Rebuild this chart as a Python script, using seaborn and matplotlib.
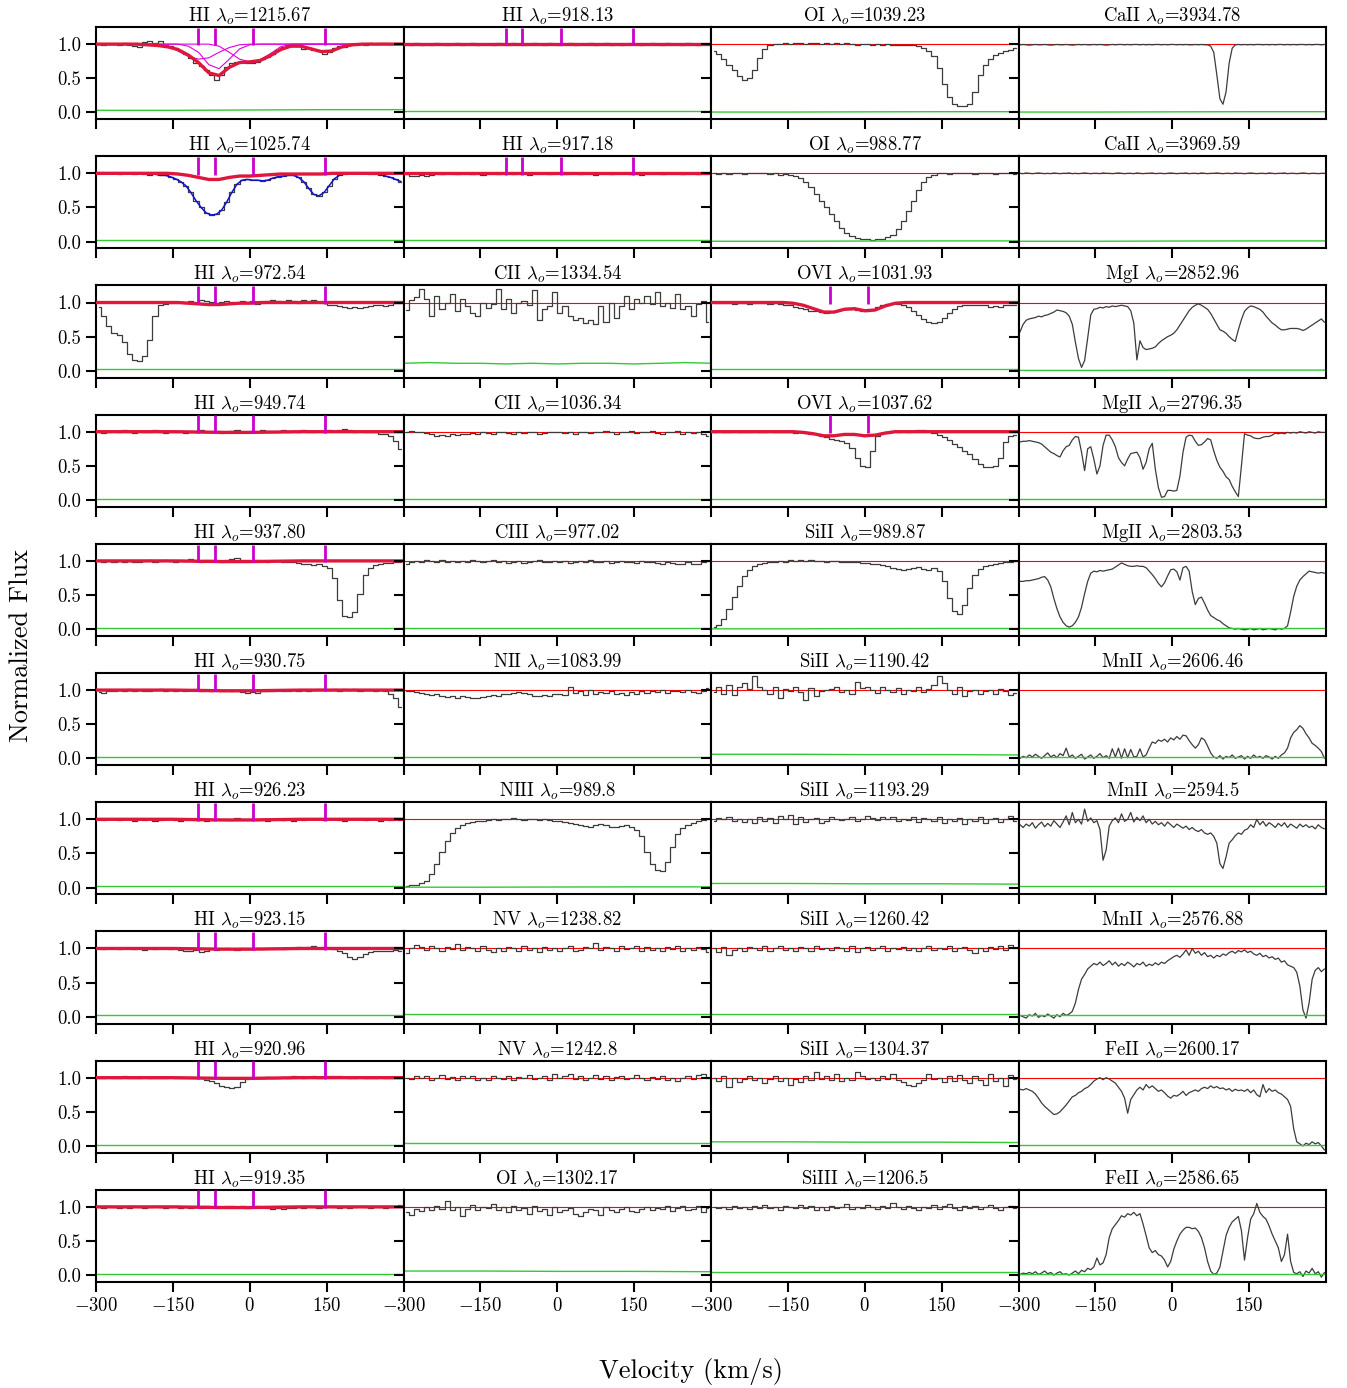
import numpy as np
import matplotlib.pyplot as plt
import seaborn as sns

# ---------------- data (normalized flux) ----------------
# low-res spectra: 60 bins over -300..300 km/s ; high-res: 100 bins
hi1215 = [1.0, 0.99, 1.0, 1.0, 0.99, 1.01, 0.99, 0.97, 0.96, 1.03, 1.04, 1.02, 1.05, 0.99, 0.97,
          0.94, 0.9, 0.85, 0.8, 0.73, 0.68, 0.62, 0.55, 0.47, 0.55, 0.66, 0.72, 0.74, 0.75, 0.73,
          0.72, 0.74, 0.78, 0.81, 0.86, 0.91, 0.96, 0.98, 0.99, 0.97, 0.93, 0.95, 0.92, 0.9, 0.86,
          0.89, 0.94, 0.97, 0.96, 0.99, 1.0, 1.0, 0.99, 1.01, 1.0, 1.02, 1.01, 1.0, 1.0, 1.01]
hi1025 = [1.0, 1.01, 1.0, 1.01, 0.99, 1.0, 1.0, 0.99, 1.0, 0.99, 0.98, 0.99, 0.97, 0.97, 0.95,
          0.92, 0.88, 0.82, 0.72, 0.6, 0.5, 0.42, 0.39, 0.4, 0.46, 0.58, 0.72, 0.84, 0.9, 0.91,
          0.9, 0.9, 0.89, 0.9, 0.93, 0.95, 0.96, 0.97, 0.97, 0.94, 0.88, 0.78, 0.69, 0.67, 0.72,
          0.82, 0.92, 0.97, 0.99, 1.0, 1.0, 1.01, 1.0, 0.99, 0.99, 0.98, 0.96, 0.94, 0.91, 0.88]
hi972 = [0.93, 0.8, 0.65, 0.56, 0.52, 0.42, 0.25, 0.16, 0.15, 0.22, 0.45, 0.8, 0.96, 0.98, 0.99,
         1.0, 1.01, 1.0, 1.02, 1.01, 1.03, 1.02, 1.01, 0.99, 1.01, 1.02, 1.01, 1.0, 1.02, 1.01,
         1.02, 0.98, 1.0, 1.02, 1.03, 1.02, 1.01, 1.03, 1.02, 1.0, 1.03, 1.02, 1.03, 1.01, 1.0,
         0.97, 0.96, 0.95, 0.93, 0.92, 0.93, 0.92, 0.93, 0.95, 0.96, 0.96, 0.95, 0.97, 0.99, 1.0]
hi949 = [0.99, 0.98, 1.0, 1.01, 0.99, 1.02, 1.0, 0.98, 1.01, 0.99, 1.0, 1.02, 1.0, 0.98, 1.0,
         0.99, 1.01, 0.98, 1.0, 0.99, 1.02, 1.0, 0.99, 1.01, 0.98, 1.0, 1.01, 1.02, 1.0, 0.99,
         1.01, 1.0, 1.02, 1.01, 0.99, 1.0, 1.02, 1.0, 1.01, 1.0, 1.02, 0.99, 1.0, 1.01, 1.0,
         1.02, 1.01, 1.03, 1.04, 1.02, 1.0, 1.01, 1.0, 0.99, 1.0, 0.97, 0.96, 0.93, 0.86, 0.75]
hi937 = [1.0, 0.99, 1.0, 0.98, 1.0, 0.99, 1.0, 0.98, 0.99, 1.0, 1.01, 0.99, 1.0, 1.02, 1.0,
         0.99, 1.01, 1.0, 1.03, 1.0, 0.99, 1.01, 1.02, 1.0, 0.99, 1.01, 1.03, 1.04, 1.02, 1.01,
         1.0, 1.02, 1.0, 0.99, 1.0, 1.0, 0.99, 0.99, 0.98, 0.97, 0.96, 0.95, 0.94, 0.95, 0.93,
         0.9, 0.75, 0.42, 0.2, 0.18, 0.25, 0.52, 0.8, 0.9, 0.94, 0.96, 0.97, 0.97, 0.98, 0.98]
hi930 = [0.97, 0.96, 0.99, 0.98, 1.0, 0.99, 1.01, 0.99, 1.0, 0.98, 0.99, 1.0, 1.01, 0.99, 1.0,
         0.98, 1.0, 0.99, 1.0, 1.01, 0.99, 1.0, 0.98, 1.0, 0.99, 1.0, 0.99, 1.0, 0.97, 0.96,
         0.97, 0.96, 0.98, 0.99, 0.98, 1.0, 0.99, 0.98, 1.0, 0.99, 1.0, 0.99, 1.0, 1.01, 1.02,
         1.0, 1.01, 0.99, 1.02, 1.0, 1.01, 0.99, 1.0, 1.0, 0.99, 1.0, 0.98, 0.95, 0.88, 0.75]
hi926 = [1.0, 0.99, 1.01, 1.0, 0.99, 1.0, 1.01, 0.98, 1.0, 0.99, 1.0, 0.98, 0.99, 1.0, 1.01,
         0.99, 0.98, 1.0, 1.01, 0.99, 1.0, 0.98, 0.99, 1.0, 1.01, 1.0, 0.99, 1.02, 1.0, 1.01,
         1.0, 0.99, 1.0, 0.98, 1.0, 1.01, 0.99, 1.0, 0.98, 1.0, 0.99, 1.0, 1.01, 1.0, 0.99,
         1.0, 1.01, 0.99, 0.98, 1.0, 1.01, 1.0, 0.99, 1.0, 1.01, 0.98, 1.0, 0.99, 1.0, 0.99]
hi923 = [1.0, 0.99, 1.01, 1.0, 0.99, 1.0, 1.01, 0.99, 1.0, 0.98, 1.0, 0.99, 1.0, 1.01, 0.99,
         1.0, 0.98, 0.97, 0.96, 0.98, 0.95, 0.97, 0.99, 0.98, 0.99, 1.0, 0.99, 0.98, 1.0, 1.01,
         0.99, 1.0, 0.99, 1.0, 1.01, 1.0, 0.99, 1.0, 1.01, 1.02, 1.01, 1.02, 1.03, 1.01, 1.02,
         1.0, 0.99, 0.97, 0.93, 0.88, 0.84, 0.87, 0.92, 0.95, 0.96, 0.97, 0.96, 0.97, 0.98, 0.96]
hi920 = [1.0, 0.99, 1.01, 1.0, 0.99, 1.03, 1.0, 0.99, 1.0, 1.01, 0.99, 1.0, 1.0, 0.99, 1.01,
         1.0, 0.99, 1.0, 1.0, 0.99, 0.99, 0.97, 0.95, 0.92, 0.88, 0.86, 0.85, 0.87, 0.93, 0.98,
         1.0, 0.99, 1.0, 1.01, 1.0, 0.99, 1.01, 1.0, 1.02, 1.01, 1.0, 1.01, 1.02, 1.0, 1.01,
         1.02, 1.03, 1.02, 1.01, 1.0, 1.0, 1.01, 1.0, 0.99, 1.0, 1.01, 1.0, 0.99, 1.0, 1.0]
hi919 = [1.0, 0.99, 1.01, 1.0, 0.99, 1.0, 0.99, 1.01, 1.0, 0.99, 1.0, 1.01, 1.0, 0.99, 1.0,
         1.01, 0.99, 1.0, 0.98, 1.0, 0.99, 1.01, 1.0, 0.99, 1.0, 1.01, 1.02, 1.0, 1.01, 0.99,
         1.0, 1.01, 1.0, 0.99, 0.97, 0.98, 0.97, 0.98, 0.99, 1.0, 0.99, 1.01, 1.0, 0.99, 1.0,
         1.01, 1.0, 0.99, 1.0, 0.99, 1.0, 1.01, 1.0, 0.99, 1.0, 1.0, 0.99, 1.0, 1.01, 1.03]

hi918 = [1.0, 0.99, 1.01, 0.98, 1.0, 0.99, 1.01, 1.0, 0.98, 1.0, 1.02, 0.99, 1.0, 1.01, 0.99,
         1.0, 1.0, 0.98, 1.01, 1.0, 0.99, 1.01, 1.0, 0.99, 1.0, 1.02, 1.0, 0.99, 1.01, 1.0,
         0.98, 1.0, 1.01, 0.99, 1.0, 1.0, 1.02, 0.99, 1.0, 1.01, 0.99, 1.0, 0.98, 1.0, 1.01,
         1.0, 0.99, 1.0, 1.01, 1.0, 0.99, 1.01, 1.0, 1.0, 0.99, 1.01, 1.0, 0.99, 1.0, 1.0]
hi917 = [0.99, 0.96, 0.96, 0.97, 0.96, 0.98, 1.0, 0.99, 1.0, 1.01, 0.99, 1.0, 1.01, 0.99, 1.0,
         0.98, 1.0, 1.01, 0.99, 1.0, 1.0, 0.99, 1.01, 1.0, 0.98, 1.0, 1.01, 1.0, 0.99, 1.0,
         1.01, 0.99, 1.0, 1.0, 0.99, 1.01, 1.0, 0.98, 1.0, 1.01, 0.99, 1.0, 1.0, 1.01, 0.99,
         1.0, 0.98, 1.0, 1.01, 1.0, 0.99, 1.0, 1.01, 1.0, 0.99, 1.0, 1.0, 0.99, 1.01, 1.0]
cii1334 = [0.89, 1.03, 1.08, 1.2, 1.05, 0.8, 1.1, 0.9, 1.0, 1.12, 0.87, 1.05, 0.95, 0.85, 0.8,
           1.0, 0.92, 0.98, 1.2, 0.9, 1.05, 0.85, 1.0, 1.02, 0.97, 1.18, 0.75, 0.9, 0.95, 1.15,
           0.85, 0.95, 0.8, 0.75, 0.78, 0.7, 0.75, 0.68, 0.95, 0.72, 1.0, 0.78, 0.95, 1.1, 0.9,
           1.05, 1.0, 1.1, 0.98, 1.15, 0.95, 1.0, 0.92, 1.12, 0.9, 0.95, 0.8, 0.98, 1.02, 0.72]
cii1036 = [1.0, 1.01, 0.99, 1.0, 0.98, 0.96, 0.94, 0.95, 0.94, 0.96, 0.95, 0.97, 0.96, 0.98, 0.97,
           0.99, 0.98, 0.97, 0.99, 1.0, 0.98, 0.97, 0.99, 0.98, 1.0, 0.99, 0.97, 0.98, 1.0, 0.99,
           1.0, 0.98, 0.99, 0.96, 0.99, 1.0, 0.98, 0.99, 1.0, 1.01, 0.99, 0.97, 1.0, 0.99, 1.01,
           0.98, 1.0, 0.99, 1.01, 0.98, 0.97, 1.0, 0.99, 1.01, 0.97, 1.0, 0.98, 0.99, 0.97, 0.93]
ciii977 = [0.95, 0.98, 1.0, 0.99, 1.02, 1.0, 0.98, 1.01, 0.99, 1.0, 0.98, 1.0, 0.99, 1.01, 1.0,
           0.98, 1.0, 1.02, 0.99, 1.0, 0.97, 0.98, 1.0, 0.97, 0.99, 1.0, 1.01, 0.99, 0.98, 1.0,
           0.99, 1.0, 0.97, 0.99, 1.0, 0.98, 1.01, 0.99, 0.98, 1.0, 0.97, 0.99, 1.0, 0.98, 0.99,
           0.97, 1.0, 0.98, 0.99, 0.97, 0.96, 0.98, 0.97, 0.95, 0.96, 0.98, 0.96, 0.95, 0.98, 1.0]
nii1083 = [0.98, 0.99, 0.97, 0.96, 0.95, 0.93, 0.94, 0.91, 0.9, 0.92, 0.89, 0.91, 0.9, 0.89, 0.88,
           0.9, 0.91, 0.93, 0.92, 0.95, 0.94, 0.96, 0.97, 0.96, 0.95, 0.92, 0.91, 0.93, 0.92, 0.94,
           0.95, 0.93, 1.04, 0.96, 0.98, 0.93, 1.0, 0.95, 0.97, 0.96, 0.98, 0.94, 0.96, 0.93, 0.97,
           0.95, 0.98, 0.96, 0.99, 0.97, 1.0, 0.96, 0.98, 0.99, 0.97, 1.0, 0.97, 0.96, 0.99, 1.03]
niii989 = [0.03, 0.04, 0.04, 0.06, 0.1, 0.2, 0.35, 0.52, 0.68, 0.8, 0.87, 0.91, 0.94, 0.96, 0.97,
           0.98, 0.99, 1.0, 0.99, 1.01, 1.0, 1.02, 1.0, 0.99, 1.0, 1.01, 0.99, 1.0, 0.99, 0.98,
           0.97, 0.96, 0.95, 0.93, 0.92, 0.9, 0.89, 0.91, 0.93, 0.91, 0.89, 0.88, 0.9, 0.92, 0.89,
           0.85, 0.75, 0.52, 0.35, 0.25, 0.24, 0.38, 0.6, 0.78, 0.87, 0.92, 0.95, 0.97, 0.99, 1.0]
nv1238 = [0.93, 1.0, 1.05, 1.02, 0.98, 1.03, 1.0, 0.97, 1.02, 0.99, 1.06, 0.98, 1.02, 1.0, 0.96,
          1.03, 0.98, 0.95, 1.0, 0.97, 1.02, 1.0, 0.96, 1.03, 0.98, 1.0, 0.95, 1.02, 0.98, 1.01,
          0.96, 1.0, 1.03, 0.97, 0.98, 1.02, 1.0, 1.08, 0.98, 1.02, 1.0, 0.96, 1.03, 0.99, 1.0,
          1.04, 0.97, 1.02, 0.98, 1.0, 0.96, 1.02, 0.99, 1.03, 0.97, 1.01, 0.98, 1.02, 0.99, 0.95]
nv1242 = [1.0, 0.98, 1.02, 0.99, 1.03, 0.97, 1.0, 1.04, 0.98, 1.01, 0.97, 1.02, 0.99, 1.03, 0.97,
          1.0, 0.96, 1.02, 1.0, 0.98, 1.03, 0.97, 1.01, 0.99, 1.04, 0.98, 1.0, 1.02, 0.97, 1.05,
          0.99, 1.02, 1.06, 0.98, 1.03, 0.97, 1.0, 1.04, 0.98, 1.02, 0.97, 1.01, 1.03, 0.98, 1.0,
          1.04, 0.99, 0.96, 1.01, 0.98, 1.03, 0.97, 1.0, 0.95, 1.0, 1.02, 0.98, 1.04, 1.06, 0.99]
oi1302 = [0.93, 0.88, 0.97, 0.94, 1.0, 0.96, 1.02, 0.97, 1.08, 0.95, 1.0, 0.86, 0.97, 1.03, 0.95,
          1.0, 0.98, 1.04, 0.96, 1.0, 0.92, 1.02, 0.95, 0.99, 0.9, 1.01, 0.94, 0.97, 0.88, 1.0,
          0.93, 0.96, 0.99, 0.9, 0.86, 0.92, 0.97, 0.95, 0.88, 1.0, 0.95, 0.92, 0.97, 1.0, 0.94,
          0.93, 0.97, 1.0, 0.95, 0.99, 0.97, 1.01, 0.94, 0.98, 1.02, 0.95, 0.97, 1.01, 0.93, 0.98]

oi1039 = [0.9, 0.85, 0.78, 0.7, 0.62, 0.54, 0.48, 0.5, 0.62, 0.8, 0.93, 0.98, 1.0, 1.0, 1.01,
          1.0, 1.02, 1.01, 1.0, 1.02, 1.01, 1.0, 1.02, 1.0, 1.01, 1.0, 1.01, 1.0, 0.99, 1.0,
          1.0, 0.99, 1.0, 0.99, 1.0, 0.98, 0.99, 0.98, 0.99, 0.98, 0.97, 0.95, 0.9, 0.82, 0.65,
          0.42, 0.22, 0.12, 0.1, 0.1, 0.13, 0.3, 0.55, 0.7, 0.78, 0.84, 0.87, 0.9, 0.92, 0.94]
oi988 = [1.0, 0.99, 1.0, 0.99, 1.0, 1.0, 0.99, 1.0, 1.01, 1.0, 1.0, 0.99, 1.0, 0.98, 0.99,
         0.97, 0.96, 0.93, 0.88, 0.8, 0.7, 0.6, 0.5, 0.4, 0.3, 0.2, 0.13, 0.08, 0.05, 0.04,
         0.04, 0.03, 0.04, 0.04, 0.06, 0.1, 0.18, 0.3, 0.45, 0.6, 0.75, 0.87, 0.94, 0.98, 1.0,
         1.0, 0.99, 1.0, 1.0, 1.01, 1.0, 0.99, 1.0, 1.0, 1.0, 0.99, 1.0, 1.0, 1.0, 0.99]
ovi1031 = [1.0, 0.99, 1.0, 0.99, 0.98, 1.0, 0.99, 0.98, 0.99, 1.0, 0.99, 0.98, 0.99, 0.98, 0.97,
           0.96, 0.94, 0.92, 0.9, 0.88, 0.87, 0.86, 0.85, 0.86, 0.88, 0.91, 0.92, 0.91, 0.89, 0.88,
           0.87, 0.89, 0.93, 0.96, 0.98, 0.99, 0.98, 0.97, 0.94, 0.88, 0.82, 0.76, 0.71, 0.7, 0.72,
           0.77, 0.84, 0.91, 0.95, 0.96, 0.97, 0.97, 0.96, 0.97, 0.94, 0.95, 0.94, 0.96, 0.96, 0.97]
ovi1037 = [1.0, 1.01, 0.99, 1.0, 1.01, 1.0, 0.99, 1.0, 1.01, 1.0, 0.99, 1.01, 1.0, 0.99, 1.0,
           0.99, 0.98, 0.99, 0.98, 0.97, 0.96, 0.94, 0.92, 0.9, 0.88, 0.86, 0.83, 0.76, 0.62, 0.5,
           0.49, 0.72, 0.93, 0.98, 1.0, 1.01, 1.0, 1.01, 1.0, 1.01, 1.02, 1.02, 1.01, 0.98, 0.95,
           0.92, 0.88, 0.82, 0.77, 0.72, 0.67, 0.6, 0.53, 0.48, 0.48, 0.5, 0.62, 0.85, 0.93, 0.95]
sii989 = [0.03, 0.06, 0.15, 0.3, 0.47, 0.63, 0.78, 0.87, 0.92, 0.95, 0.97, 0.98, 0.99, 1.0, 0.99,
          1.01, 1.0, 1.02, 1.0, 1.01, 1.0, 1.0, 0.99, 1.0, 1.0, 0.99, 0.98, 0.99, 0.98, 0.97,
          0.97, 0.96, 0.95, 0.94, 0.92, 0.9, 0.88, 0.87, 0.88, 0.9, 0.91, 0.88, 0.86, 0.89, 0.85,
          0.7, 0.45, 0.27, 0.22, 0.35, 0.6, 0.8, 0.88, 0.92, 0.94, 0.96, 0.97, 0.98, 0.99, 1.0]
sii1190 = [0.97, 1.05, 0.95, 1.08, 0.93, 1.05, 1.1, 1.02, 1.2, 1.05, 1.0, 0.95, 1.04, 0.88, 1.02,
           0.98, 1.05, 0.97, 0.86, 1.03, 0.92, 0.98, 1.0, 1.02, 1.05, 0.97, 1.0, 0.95, 1.12, 1.03,
           1.05, 1.0, 0.96, 1.04, 1.0, 0.97, 1.03, 0.95, 1.0, 0.98, 1.05, 0.97, 1.02, 1.08, 1.2,
           1.1, 1.0, 0.95, 1.05, 0.92, 0.98, 1.0, 0.94, 0.98, 1.0, 0.95, 1.02, 0.98, 0.93, 0.96]
sii1193 = [0.98, 1.02, 1.0, 1.04, 0.98, 1.01, 0.96, 1.0, 0.94, 1.03, 0.97, 1.02, 0.95, 1.05, 1.0,
           1.07, 0.93, 1.03, 0.96, 1.0, 1.02, 0.95, 0.98, 1.04, 1.0, 0.99, 1.01, 1.03, 0.98, 1.0,
           1.05, 1.02, 0.99, 1.03, 1.0, 1.04, 0.97, 1.01, 0.99, 1.03, 0.96, 1.02, 1.0, 0.97, 1.03,
           0.95, 1.01, 0.98, 1.02, 0.93, 1.0, 0.97, 1.03, 0.95, 1.0, 1.02, 0.96, 1.01, 1.05, 0.97]
sii1260 = [1.0, 0.95, 1.02, 0.9, 0.98, 1.0, 0.97, 1.02, 1.0, 0.98, 1.03, 0.97, 1.0, 1.04, 0.98,
           1.01, 0.96, 1.02, 1.0, 0.97, 1.03, 0.99, 1.01, 0.98, 1.02, 1.0, 0.97, 1.03, 0.95, 1.0,
           1.02, 0.98, 1.0, 1.03, 0.97, 1.0, 0.99, 1.02, 0.98, 1.01, 0.96, 1.0, 1.03, 0.98, 1.01,
           0.99, 1.03, 0.97, 1.0, 1.02, 0.98, 0.93, 1.0, 0.97, 1.02, 0.99, 1.03, 0.98, 1.05, 1.0]
sii1304 = [1.0, 0.95, 1.02, 0.87, 1.0, 0.93, 0.98, 1.03, 0.97, 1.0, 0.92, 0.98, 1.02, 0.95, 1.0,
           0.9, 0.98, 0.94, 1.03, 0.97, 1.08, 0.98, 1.02, 0.96, 1.05, 0.95, 1.0, 0.97, 1.09, 1.02,
           0.98, 1.0, 0.96, 1.03, 0.98, 1.06, 0.97, 0.93, 0.9, 0.88, 0.92, 0.96, 1.05, 0.98, 1.0,
           0.93, 1.02, 0.95, 1.04, 0.97, 0.92, 1.03, 0.97, 0.9, 1.06, 0.95, 1.0, 0.88, 1.04, 0.98]
siiii1206 = [1.0, 0.98, 1.0, 0.97, 1.01, 0.99, 1.0, 0.97, 1.02, 0.99, 1.03, 0.98, 1.0, 0.96, 1.02,
             1.0, 0.98, 1.03, 0.99, 1.01, 0.95, 1.0, 0.96, 1.02, 0.98, 1.0, 1.04, 0.97, 1.0, 0.98,
             1.03, 1.0, 0.97, 1.02, 0.99, 1.06, 1.0, 0.97, 1.02, 0.99, 0.95, 1.0, 0.98, 1.03, 0.97,
             1.01, 1.04, 0.99, 0.96, 1.01, 0.98, 1.02, 0.97, 1.0, 1.03, 0.98, 0.96, 1.0, 1.02, 0.98]

caii3934 = [0.99, 0.995, 0.99, 0.985, 0.99, 0.995, 0.99, 0.99, 0.995, 0.99, 0.985, 0.99, 0.995, 0.99, 0.99,
            0.995, 0.99, 0.985, 0.99, 0.995, 0.99, 0.995, 0.99, 0.99, 0.995, 0.99, 0.995, 0.99, 0.985, 0.99,
            0.995, 0.99, 0.995, 0.995, 0.99, 0.995, 0.99, 0.995, 0.995, 0.99, 0.995, 0.99, 0.995, 0.99, 0.995,
            0.995, 0.99, 0.995, 0.99, 0.995, 0.995, 0.99, 0.995, 0.99, 0.995, 0.99, 0.99, 0.995, 0.99, 0.995,
            0.99, 0.99, 0.97, 0.88, 0.55, 0.2, 0.12, 0.3, 0.72, 0.94, 0.99, 0.995, 0.99, 0.995, 0.99,
            0.995, 0.99, 0.995, 0.995, 0.99, 0.995, 0.99, 0.995, 0.99, 0.995, 0.995, 0.99, 0.995, 0.99, 0.995,
            0.99, 0.995, 0.995, 0.99, 0.995, 0.99, 0.995, 0.995, 0.99, 0.995]
caii3969 = [1.0, 0.995, 1.005, 1.0, 0.995, 1.0, 1.005, 1.0, 0.995, 1.0, 0.995, 1.005, 1.0, 0.995, 1.0,
            1.0, 1.005, 0.995, 1.0, 0.995, 1.0, 1.005, 1.0, 0.995, 1.0, 1.0, 0.995, 1.005, 1.0, 1.0,
            0.995, 1.0, 1.005, 1.0, 0.995, 1.0, 1.0, 0.995, 1.005, 1.0, 0.995, 1.0, 1.0, 1.005, 0.995,
            1.0, 1.0, 0.995, 1.0, 1.005, 1.0, 0.995, 1.0, 1.0, 1.005, 0.995, 1.0, 1.0, 0.995, 1.005,
            1.0, 0.995, 1.0, 1.0, 1.005, 1.0, 0.995, 1.0, 1.0, 0.995, 1.005, 1.0, 1.0, 0.995, 1.0,
            1.005, 1.0, 0.995, 1.0, 1.0, 0.995, 1.005, 1.0, 0.995, 1.0, 1.0, 1.005, 0.995, 1.0, 1.0,
            0.995, 1.0, 1.005, 1.0, 0.995, 1.0, 1.0, 0.995, 1.0, 1.0]
mgi2852 = [0.57, 0.68, 0.74, 0.76, 0.77, 0.78, 0.8, 0.79, 0.81, 0.82, 0.84, 0.86, 0.89, 0.88, 0.87,
           0.85, 0.8, 0.68, 0.42, 0.18, 0.05, 0.15, 0.48, 0.82, 0.9, 0.91, 0.93, 0.92, 0.94, 0.93,
           0.95, 0.94, 0.95, 0.96, 0.95, 0.94, 0.88, 0.7, 0.16, 0.44, 0.34, 0.31, 0.32, 0.33, 0.35,
           0.4, 0.44, 0.47, 0.5, 0.52, 0.55, 0.6, 0.67, 0.74, 0.81, 0.88, 0.93, 0.96, 0.98, 0.96,
           0.93, 0.9, 0.84, 0.76, 0.68, 0.6, 0.58, 0.55, 0.5, 0.46, 0.43, 0.6, 0.75, 0.87, 0.92,
           0.95, 0.94, 0.92, 0.9, 0.86, 0.8, 0.75, 0.7, 0.67, 0.63, 0.6, 0.6, 0.61, 0.62, 0.62,
           0.62, 0.61, 0.59, 0.61, 0.64, 0.67, 0.7, 0.73, 0.76, 0.71]
mgii2796 = [0.85, 0.86, 0.86, 0.87, 0.86, 0.85, 0.84, 0.82, 0.78, 0.74, 0.7, 0.68, 0.65, 0.63, 0.72,
            0.78, 0.8, 0.88, 0.93, 0.92, 0.7, 0.43, 0.75, 0.78, 0.6, 0.38, 0.5, 0.8, 0.95, 0.95,
            0.88, 0.78, 0.62, 0.55, 0.5, 0.6, 0.68, 0.69, 0.7, 0.62, 0.45, 0.55, 0.75, 0.83, 0.45,
            0.18, 0.04, 0.05, 0.14, 0.14, 0.13, 0.14, 0.35, 0.7, 0.92, 0.95, 0.94, 0.86, 0.8, 0.81,
            0.85, 0.9, 0.88, 0.72, 0.58, 0.48, 0.42, 0.34, 0.3, 0.2, 0.12, 0.05, 0.5, 0.97, 0.95,
            0.94, 0.91, 0.9, 0.9, 0.92, 0.93, 0.93, 0.95, 0.98, 0.97, 0.98, 0.97, 0.99, 0.98, 0.99,
            0.98, 1.0, 0.99, 0.98, 1.0, 0.99, 0.98, 1.0, 0.99, 0.99]
mgii2803 = [0.7, 0.7, 0.71, 0.71, 0.72, 0.73, 0.74, 0.76, 0.77, 0.72, 0.62, 0.45, 0.3, 0.18, 0.1,
            0.05, 0.03, 0.05, 0.1, 0.18, 0.32, 0.52, 0.7, 0.82, 0.85, 0.84, 0.86, 0.85, 0.86, 0.87,
            0.88, 0.91, 0.94, 0.97, 0.95, 0.93, 0.92, 0.92, 0.93, 0.92, 0.92, 0.9, 0.85, 0.8, 0.74,
            0.67, 0.62, 0.68, 0.78, 0.87, 0.88, 0.84, 0.72, 0.9, 0.92, 0.85, 0.55, 0.36, 0.45, 0.47,
            0.38, 0.28, 0.2, 0.17, 0.14, 0.12, 0.08, 0.05, 0.02, 0.01, 0.0, 0.01, 0.0, -0.01, 0.0,
            0.01, -0.01, 0.0, 0.01, -0.01, 0.0, 0.01, 0.0, -0.01, 0.01, 0.0, 0.01, 0.05, 0.25, 0.48,
            0.63, 0.72, 0.77, 0.81, 0.85, 0.84, 0.83, 0.82, 0.83, 0.82]
mnii2606 = [0.0, 0.03, 0.01, 0.05, 0.02, 0.06, 0.03, 0.0, 0.04, 0.08, 0.02, 0.05, 0.01, 0.07, 0.04,
            0.15, 0.02, 0.05, 0.0, 0.03, 0.06, -0.01, 0.02, 0.05, 0.0, 0.03, 0.07, 0.01, 0.04, 0.0,
            0.14, 0.02, 0.15, 0.0, 0.14, 0.01, 0.13, 0.02, 0.03, 0.14, 0.02, 0.05, 0.15, 0.24, 0.22,
            0.27, 0.25, 0.28, 0.24, 0.3, 0.27, 0.32, 0.28, 0.34, 0.33, 0.26, 0.2, 0.15, 0.2, 0.3,
            0.27, 0.18, 0.08, 0.02, 0.0, 0.04, -0.01, 0.03, 0.01, 0.05, 0.0, 0.02, 0.04, -0.01, 0.03,
            0.0, 0.05, 0.01, 0.03, 0.0, 0.04, 0.02, -0.01, 0.03, 0.0, 0.05, 0.08, 0.15, 0.3, 0.38,
            0.42, 0.48, 0.44, 0.36, 0.3, 0.22, 0.19, 0.15, 0.1, 0.0]
mnii2594 = [0.92, 0.88, 0.93, 0.9, 0.95, 0.87, 0.92, 0.96, 0.89, 0.94, 0.9, 0.98, 0.93, 0.88, 0.96,
            1.05, 0.92, 1.1, 0.95, 1.0, 0.93, 1.15, 0.97, 1.02, 0.95, 0.98, 0.85, 0.4, 0.55, 0.9,
            0.98, 1.02, 0.95, 1.08, 0.97, 1.0, 1.1, 0.96, 1.03, 0.98, 1.05, 0.95, 1.0, 0.93, 0.97,
            0.92, 0.95, 0.9, 0.96, 0.92, 0.88, 0.93, 0.9, 0.87, 0.9, 0.85, 0.88, 0.84, 0.82, 0.85,
            0.8, 0.78, 0.8, 0.75, 0.65, 0.35, 0.28, 0.45, 0.65, 0.7, 0.76, 0.8, 0.78, 0.84, 0.86,
            0.92, 0.88, 1.0, 0.92, 0.97, 0.9, 0.95, 0.92, 0.88, 0.94, 0.9, 0.95, 0.88, 0.93, 0.9,
            0.87, 0.93, 0.89, 0.92, 0.88, 0.9, 0.86, 0.92, 0.88, 0.86]
mnii2576 = [0.02, 0.0, -0.02, 0.03, 0.01, 0.05, -0.01, 0.02, 0.0, 0.04, 0.01, -0.02, 0.03, 0.0, 0.05,
            0.02, 0.04, 0.08, 0.2, 0.4, 0.55, 0.62, 0.7, 0.74, 0.78, 0.76, 0.8, 0.75, 0.78, 0.82,
            0.76, 0.8, 0.74, 0.78, 0.75, 0.8, 0.77, 0.73, 0.78, 0.76, 0.8, 0.74, 0.77, 0.75, 0.79,
            0.76, 0.8, 0.78, 0.82, 0.85, 0.88, 0.9, 0.87, 0.92, 0.98, 0.9, 1.0, 0.93, 0.96, 0.9,
            0.94, 0.88, 0.9, 0.86, 0.9, 0.88, 0.92, 0.9, 0.94, 0.96, 0.93, 0.97, 0.95, 0.98, 0.94,
            0.96, 0.92, 0.9, 0.93, 0.88, 0.9, 0.86, 0.88, 0.84, 0.86, 0.8, 0.82, 0.76, 0.74, 0.72,
            0.65, 0.45, 0.1, -0.02, 0.2, 0.55, 0.68, 0.72, 0.66, 0.7]
feii2600 = [0.83, 0.82, 0.84, 0.82, 0.8, 0.76, 0.7, 0.63, 0.58, 0.54, 0.5, 0.46, 0.47, 0.5, 0.55,
            0.6, 0.66, 0.72, 0.74, 0.78, 0.8, 0.84, 0.86, 0.9, 0.95, 0.98, 1.0, 0.97, 1.0, 0.98,
            0.95, 0.92, 0.86, 0.8, 0.7, 0.48, 0.68, 0.75, 0.82, 0.86, 0.82, 0.9, 0.85, 0.88, 0.84,
            0.8, 0.82, 0.78, 0.73, 0.7, 0.74, 0.73, 0.76, 0.8, 0.74, 0.78, 0.8, 0.82, 0.8, 0.84,
            0.86, 0.84, 0.88, 0.85, 0.87, 0.84, 0.85, 0.82, 0.84, 0.8, 0.83, 0.81, 0.82, 0.8, 0.83,
            0.78, 0.82, 0.75, 0.72, 0.9, 0.78, 0.84, 0.8, 0.82, 0.78, 0.76, 0.72, 0.68, 0.58, 0.25,
            0.06, 0.03, 0.0, 0.04, 0.02, 0.06, 0.03, 0.05, 0.0, -0.06]
feii2586 = [0.01, 0.03, 0.02, 0.04, 0.02, 0.05, 0.01, 0.03, 0.06, 0.02, 0.04, 0.0, 0.03, 0.05, 0.01,
            0.02, 0.0, 0.03, 0.06, 0.02, 0.07, 0.05, 0.1, 0.08, 0.12, 0.25, 0.15, 0.18, 0.3, 0.55,
            0.68, 0.74, 0.8, 0.87, 0.85, 0.9, 0.88, 0.92, 0.87, 0.9, 0.75, 0.58, 0.4, 0.33, 0.36,
            0.3, 0.28, 0.22, 0.12, 0.2, 0.38, 0.5, 0.6, 0.66, 0.7, 0.7, 0.68, 0.69, 0.64, 0.55,
            0.4, 0.2, 0.06, 0.01, 0.03, 0.12, 0.35, 0.58, 0.7, 0.78, 0.82, 0.86, 0.65, 0.22, 0.55,
            0.82, 0.9, 1.05, 0.92, 0.86, 0.82, 0.72, 0.6, 0.5, 0.4, 0.2, 0.3, 0.6, 0.2, 0.04,
            0.02, 0.05, -0.02, 0.06, 0.03, 0.1, 0.02, 0.05, -0.03, 0.04]

# error spectra (coarse, evenly spaced across the panel)
err_hi1215 = [0.03, 0.03, 0.035, 0.04, 0.04]
err_low = [0.02, 0.02, 0.02, 0.02, 0.02]
err_zero = [0.005, 0.005, 0.008, 0.01, 0.01]
err_cii1334 = [0.11, 0.12, 0.11, 0.11, 0.1, 0.11, 0.1, 0.11, 0.11, 0.1, 0.11, 0.12, 0.11]
err_mid = [0.04, 0.04, 0.04, 0.04, 0.04]
err_sii = [0.06, 0.06, 0.055, 0.055, 0.05]

# Voigt-profile fits (knots evenly spaced from -300 to 300 km/s)
fit_hi1215 = [1.0, 1.0, 1.0, 1.0, 1.0, 0.99, 0.98, 0.96, 0.92, 0.84, 0.73, 0.58, 0.54, 0.66, 0.73, 0.74,
              0.76, 0.83, 0.92, 0.97, 0.97, 0.93, 0.89, 0.9, 0.96, 0.99, 1.0, 1.0, 1.0, 1.0, 1.0]
comp1_hi1215 = [1.0, 1.0, 1.0, 1.0, 1.0, 1.0, 1.0, 0.97, 0.9, 0.82, 0.78, 0.8, 0.88, 0.95, 0.99, 1.0,
                1.0, 1.0, 1.0, 1.0, 1.0, 1.0, 1.0, 1.0, 1.0, 1.0, 1.0, 1.0, 1.0, 1.0, 1.0]
comp2_hi1215 = [1.0, 1.0, 1.0, 1.0, 1.0, 1.0, 1.0, 1.0, 1.0, 0.97, 0.88, 0.7, 0.64, 0.78, 0.93, 0.99,
                1.0, 1.0, 1.0, 1.0, 1.0, 1.0, 1.0, 1.0, 1.0, 1.0, 1.0, 1.0, 1.0, 1.0, 1.0]
comp3_hi1215 = [1.0, 1.0, 1.0, 1.0, 1.0, 1.0, 1.0, 1.0, 1.0, 1.0, 1.0, 1.0, 0.97, 0.88, 0.78, 0.74,
                0.77, 0.86, 0.96, 1.0, 1.0, 1.0, 1.0, 1.0, 1.0, 1.0, 1.0, 1.0, 1.0, 1.0, 1.0]
fit_hi1025 = [1.0, 1.0, 1.0, 1.0, 1.0, 1.0, 1.0, 1.0, 0.99, 0.97, 0.94, 0.91, 0.91, 0.94, 0.96, 0.96,
              0.97, 0.98, 0.99, 0.99, 0.99, 0.99, 0.99, 1.0, 1.0, 1.0, 1.0, 1.0, 1.0, 1.0, 1.0]
fit_hi972 = [1.0, 1.0, 1.0, 1.0, 1.0, 1.0, 1.0, 1.0, 1.0, 0.99, 0.98, 0.97, 0.97, 0.98, 0.99, 0.99,
             1.0, 1.0, 1.0, 1.0, 1.0, 1.0, 1.0, 1.0, 1.0, 1.0, 1.0, 1.0, 1.0, 1.0, 1.0]
fit_hi_high = [1.0, 1.0, 1.0, 1.0, 0.995, 0.99, 0.99, 0.995, 1.0, 1.0, 1.0, 1.0, 1.0]
fit_flat = [1.0, 1.0, 1.0]
fit_ovi1031 = [1.0, 1.0, 1.0, 1.0, 1.0, 1.0, 1.0, 1.0, 0.99, 0.96, 0.91, 0.86, 0.86, 0.9, 0.91, 0.88,
               0.89, 0.95, 0.99, 1.0, 1.0, 1.0, 1.0, 1.0, 1.0, 1.0, 1.0, 1.0, 1.0, 1.0, 1.0]
fit_ovi1037 = [1.0, 1.0, 1.0, 1.0, 1.0, 1.0, 1.0, 1.0, 1.0, 0.99, 0.97, 0.94, 0.94, 0.96, 0.96, 0.94,
               0.95, 0.98, 1.0, 1.0, 1.0, 1.0, 1.0, 1.0, 1.0, 1.0, 1.0, 1.0, 1.0, 1.0, 1.0]

hi_comp_v = [-101, -68, 7, 147]
ovi_comp_v = [-68, 7]

# (ion, rest wavelength, flux, error, fit, component markers), column by column
col1 = [("HI", "1215.67", hi1215, err_hi1215, fit_hi1215, hi_comp_v),
        ("HI", "1025.74", hi1025, err_low, fit_hi1025, hi_comp_v),
        ("HI", "972.54", hi972, err_low, fit_hi972, hi_comp_v),
        ("HI", "949.74", hi949, err_low, fit_hi_high, hi_comp_v),
        ("HI", "937.80", hi937, err_low, fit_hi_high, hi_comp_v),
        ("HI", "930.75", hi930, err_low, fit_hi_high, hi_comp_v),
        ("HI", "926.23", hi926, err_low, fit_hi_high, hi_comp_v),
        ("HI", "923.15", hi923, err_low, fit_hi_high, hi_comp_v),
        ("HI", "920.96", hi920, err_low, fit_hi_high, hi_comp_v),
        ("HI", "919.35", hi919, err_low, fit_hi_high, hi_comp_v)]
col2 = [("HI", "918.13", hi918, err_low, fit_flat, hi_comp_v),
        ("HI", "917.18", hi917, err_low, fit_flat, hi_comp_v),
        ("CII", "1334.54", cii1334, err_cii1334, None, None),
        ("CII", "1036.34", cii1036, err_low, None, None),
        ("CIII", "977.02", ciii977, err_low, None, None),
        ("NII", "1083.99", nii1083, err_low, None, None),
        ("NIII", "989.8", niii989, err_zero, None, None),
        ("NV", "1238.82", nv1238, err_mid, None, None),
        ("NV", "1242.8", nv1242, err_mid, None, None),
        ("OI", "1302.17", oi1302, err_sii, None, None)]
col3 = [("OI", "1039.23", oi1039, err_zero, None, None),
        ("OI", "988.77", oi988, err_zero, None, None),
        ("OVI", "1031.93", ovi1031, err_low, fit_ovi1031, ovi_comp_v),
        ("OVI", "1037.62", ovi1037, err_low, fit_ovi1037, ovi_comp_v),
        ("SiII", "989.87", sii989, err_zero, None, None),
        ("SiII", "1190.42", sii1190, err_sii, None, None),
        ("SiII", "1193.29", sii1193, err_sii, None, None),
        ("SiII", "1260.42", sii1260, err_mid, None, None),
        ("SiII", "1304.37", sii1304, err_sii, None, None),
        ("SiIII", "1206.5", siiii1206, err_mid, None, None)]
col4 = [("CaII", "3934.78", caii3934, err_zero, None, None),
        ("CaII", "3969.59", caii3969, err_zero, None, None),
        ("MgI", "2852.96", mgi2852, err_zero, None, None),
        ("MgII", "2796.35", mgii2796, err_low, None, None),
        ("MgII", "2803.53", mgii2803, err_low, None, None),
        ("MnII", "2606.46", mnii2606, err_low, None, None),
        ("MnII", "2594.5", mnii2594, err_low, None, None),
        ("MnII", "2576.88", mnii2576, err_low, None, None),
        ("FeII", "2600.17", feii2600, err_low, None, None),
        ("FeII", "2586.65", feii2586, err_low, None, None)]


def centers(n):
    return -300 + (np.arange(n) + 0.5) * 600.0 / n


def knots(n):
    return np.linspace(-300, 300, n)


sns.set_style("ticks")
plt.rcParams['font.family'] = ['cmr10', 'DejaVu Serif']
plt.rcParams['mathtext.fontset'] = 'cm'
plt.rcParams['axes.formatter.use_mathtext'] = True
plt.rcParams['axes.unicode_minus'] = True
for key in ['axes.edgecolor', 'xtick.color', 'ytick.color', 'text.color', 'axes.labelcolor']:
    plt.rcParams[key] = 'black'

fig, axes = plt.subplots(10, 4, figsize=(13.47, 13.88), dpi=100, sharex=True, sharey=True)
fig.subplots_adjust(left=0.0713, right=0.9844, top=0.9805, bottom=0.0764, wspace=0, hspace=0.402)

for c, col in enumerate([col1, col2, col3, col4]):
    for r, (ion, wave, flux, err, fit, comps) in enumerate(col):
        ax = axes[r, c]
        hires = len(flux) > 60
        if hires:
            sns.lineplot(x=centers(len(flux)), y=flux, ax=ax, color='#3c3c3c', lw=0.9,
                         estimator=None)
        else:
            sns.lineplot(x=centers(len(flux)), y=flux, ax=ax, drawstyle='steps-mid',
                         color='#3c3c3c', lw=0.9, estimator=None)
        sns.lineplot(x=knots(len(err)), y=err, ax=ax, color='#35c835', lw=1.0, estimator=None)
        if fit is None:
            ax.axhline(1.0, color='red', lw=0.8, zorder=1)
        else:
            if ion == "HI" and wave == "1215.67":
                for comp in [comp1_hi1215, comp2_hi1215, comp3_hi1215]:
                    sns.lineplot(x=knots(len(comp)), y=comp, ax=ax, color='#e000e0', lw=0.8,
                                 estimator=None)
            if ion == "HI" and wave == "1025.74":
                sns.lineplot(x=centers(len(flux)), y=flux, ax=ax, color='#1010d0', lw=1.1,
                             estimator=None)
            sns.lineplot(x=knots(len(fit)), y=fit, ax=ax, color='#e0173c', lw=2.4,
                         estimator=None, zorder=5)
            ax.vlines(comps, 0.98, 1.24, color='#cc00cc', lw=2.0, zorder=6)
        ax.set_title(ion + r" $\lambda_o$=" + wave, fontsize=13.5, pad=3)
        ax.set_xlim(-300, 300)
        ax.set_ylim(-0.1, 1.25)
        ax.set_xticks([-300, -150, 0, 150])
        ax.set_yticks([0.0, 0.5, 1.0])
        ax.set_yticklabels(['0.0', '0.5', '1.0'])
        ax.tick_params(direction='out', length=7, width=1.5, labelsize=13.5)
        ax.set_xlabel('')
        ax.set_ylabel('')
        for s in ax.spines.values():
            s.set_linewidth(1.5)
            s.set_visible(True)

fig.text(0.513, 0.012, 'Velocity (km/s)', ha='center', va='center', fontsize=19)
fig.text(0.016, 0.535, 'Normalized Flux', ha='center', va='center', rotation=90, fontsize=19)

plt.savefig('out.png', dpi=100)
